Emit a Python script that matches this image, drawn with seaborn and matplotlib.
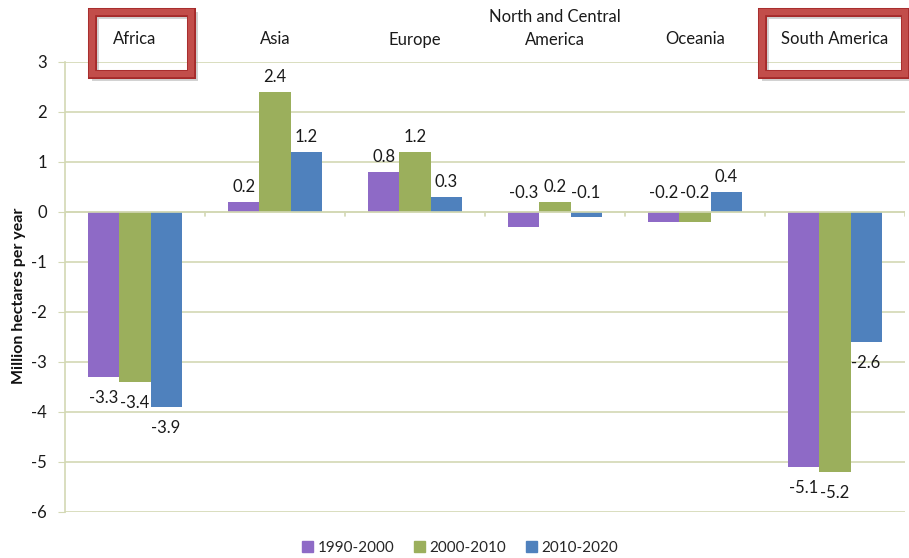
import pandas as pd
import seaborn as sns
import matplotlib.pyplot as plt
from matplotlib.patches import Rectangle

regions = ['Africa', 'Asia', 'Europe', 'North and Central\nAmerica', 'Oceania', 'South America']
periods = ['1990-2000', '2000-2010', '2010-2020']
v_1990 = [-3.3, 0.2, 0.8, -0.3, -0.2, -5.1]
v_2000 = [-3.4, 2.4, 1.2, 0.2, -0.2, -5.2]
v_2010 = [-3.9, 1.2, 0.3, -0.1, 0.4, -2.6]
highlighted = ['Africa', 'South America']

colors = ['#8E6AC6', '#9BAF5C', '#4F81BD']
grid_col = '#D3D8B4'

rows = []
for p, vals in zip(periods, [v_1990, v_2000, v_2010]):
    for r, v in zip(regions, vals):
        rows.append({'region': r, 'period': p, 'value': v})
df = pd.DataFrame(rows)

sns.set_style('white')
plt.rcParams['font.family'] = ['Lato', 'DejaVu Sans']
plt.rcParams['axes.unicode_minus'] = False

fig = plt.figure(figsize=(9.09, 5.58), dpi=100)
ax = fig.add_axes([65 / 909, 46 / 558, 840 / 909, 450 / 558])

sns.barplot(data=df, x='region', y='value', hue='period', order=regions,
            hue_order=periods, palette=colors, width=0.665, linewidth=0,
            saturation=1, ax=ax, legend=False)

ax.set_ylim(-6, 3)
ax.set_xlim(-0.5, len(regions) - 0.5)
ax.set_yticks(range(-6, 4))
ax.yaxis.grid(True, color=grid_col, linewidth=1.2)
ax.set_axisbelow(True)
ax.axhline(0, color=grid_col, linewidth=1.2, zorder=1)
for i in range(len(regions) + 1):
    ax.plot([i - 0.5, i - 0.5], [0, -0.08], color=grid_col, lw=1.2, zorder=1)

for s in ['top', 'right', 'bottom']:
    ax.spines[s].set_visible(False)
ax.spines['left'].set_color(grid_col)
ax.spines['left'].set_linewidth(1.2)
ax.tick_params(axis='y', length=5, color=grid_col, labelsize=12, pad=8, left=True,
               labelcolor='#1a1a1a')
ax.set_xticks([])
ax.set_xlabel('')
ax.set_ylabel('Million hectares per year', fontsize=11.5, fontweight='bold',
              color='#111111')
ax.yaxis.set_label_coords(-0.047, 0.48)

# region names at the top
for i, r in enumerate(regions):
    ax.text(i, 3.45 if '\n' not in r else 3.67, r, ha='center', va='center',
            fontsize=12, color='#1a1a1a', linespacing=1.55, clip_on=False)

# data labels
for k, p in enumerate(periods):
    vals = df[df.period == p]['value'].tolist()
    for i, v in enumerate(vals):
        x = i + (k - 1) * 0.665 / 3
        if v >= 0:
            y = v + 0.3
        elif v > -1:
            y = 0.38
        else:
            y = v - 0.42
        ax.text(x, y, f'{v:.1f}', ha='center', va='center', fontsize=12,
                color='#1a1a1a')

# red highlight boxes around region names
box_px = {'Africa': (92, 191), 'South America': (762, 905)}
for r in highlighted:
    x0, x1 = box_px[r]
    fig.patches.append(Rectangle((x0 / 909 + 0.003, 1 - 74 / 558 - 0.005), (x1 - x0) / 909,
                                 62 / 558, transform=fig.transFigure, fill=False,
                                 edgecolor='#999999', linewidth=5, alpha=0.45, zorder=4))
    fig.patches.append(Rectangle((x0 / 909, 1 - 74 / 558), (x1 - x0) / 909, 62 / 558,
                                 transform=fig.transFigure, fill=False,
                                 edgecolor='#A52A2A', linewidth=6.5, zorder=5))
    fig.patches.append(Rectangle((x0 / 909, 1 - 74 / 558), (x1 - x0) / 909, 62 / 558,
                                 transform=fig.transFigure, fill=False,
                                 edgecolor='#C24D4A', linewidth=4.5, zorder=6))

# legend
handles = [Rectangle((0, 0), 1, 1, color=c) for c in colors]
fig.legend(handles, periods, loc='center', bbox_to_anchor=(0.506, 10 / 558), ncol=3,
           frameon=False, fontsize=11, handlelength=0.7, handleheight=0.7,
           handletextpad=0.3, columnspacing=1.3)

fig.savefig('out.png', dpi=100)
